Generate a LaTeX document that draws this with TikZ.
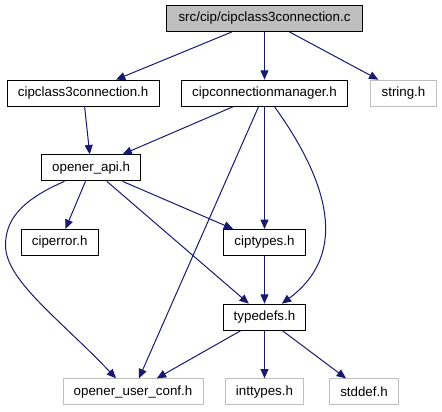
\documentclass[tikz,border=0pt]{standalone}
\usepackage{fontspec}
\setmainfont{Liberation Sans}
\usetikzlibrary{positioning,arrows.meta}
\definecolor{edgeblue}{HTML}{191970}
\definecolor{sysgray}{HTML}{BFBFBF}

\begin{document}
\begin{tikzpicture}[x=0.75pt, y=0.75pt, node distance=56pt,
  file/.style={draw, rectangle, line width=0.75pt, minimum height=19.5pt, inner xsep=8pt, inner ysep=0pt, font=\fontsize{10}{12}\selectfont},
  sysfile/.style={file, draw=sysgray},
  dep/.style={draw=edgeblue, line width=0.75pt, -{Triangle[length=7pt, width=6pt]}}]
\useasboundingbox (0,0) rectangle (442,-411);
\node (root) [file, fill=sysgray, inner xsep=9pt] at (264.5,-18.5) {src/cip/cipclass3connection.c};
\node (c3h) [file, below of=root, xshift=-136pt] {cipclass3connection.h};
\node (cmgr) [file, below of=root] {cipconnectionmanager.h};
\node (str) [sysfile, below of=root, xshift=104.25pt] {string.h};
\node (api) [file, below of=c3h, xshift=6pt] {opener\_api.h};
\node (err) [file, below of=api, xshift=-23.6pt] {ciperror.h};
\node (types) [file, below of=cmgr, yshift=-56pt] {ciptypes.h};
\node (tdefs) [file, below of=types] {typedefs.h};
\node (conf) [sysfile, below of=tdefs, xshift=-98.6pt] {opener\_user\_conf.h};
\node (intt) [sysfile, below of=tdefs] {inttypes.h};
\node (stdd) [sysfile, below of=tdefs, xshift=74.6pt] {stddef.h};

\draw[dep] (root) -- (c3h);
\draw[dep] (root) -- (cmgr);
\draw[dep] (root) -- (str);
\draw[dep] (c3h) -- (api);
\draw[dep] (cmgr) -- (api);
\draw[dep] (cmgr) -- (conf);
\draw[dep] (cmgr) -- (types);
\draw[dep] ([xshift=7.5pt]cmgr.south) .. controls +(46,-64) and +(73,54) .. ([xshift=13pt]tdefs.north);
\draw[dep] ([xshift=-20pt]api.south) .. controls +(-44,-19) and +(0,25) .. ++(-59,-64) .. controls +(0,-35) and +(-56,59) .. ([xshift=-12.75pt]conf.north);
\draw[dep] (api) -- (err);
\draw[dep] (api) -- (types);
\draw[dep] (api) -- (tdefs);
\draw[dep] (types) -- (tdefs);
\draw[dep] (tdefs) -- (conf);
\draw[dep] (tdefs) -- (intt);
\draw[dep] (tdefs) -- (stdd);
\end{tikzpicture}
\end{document}
